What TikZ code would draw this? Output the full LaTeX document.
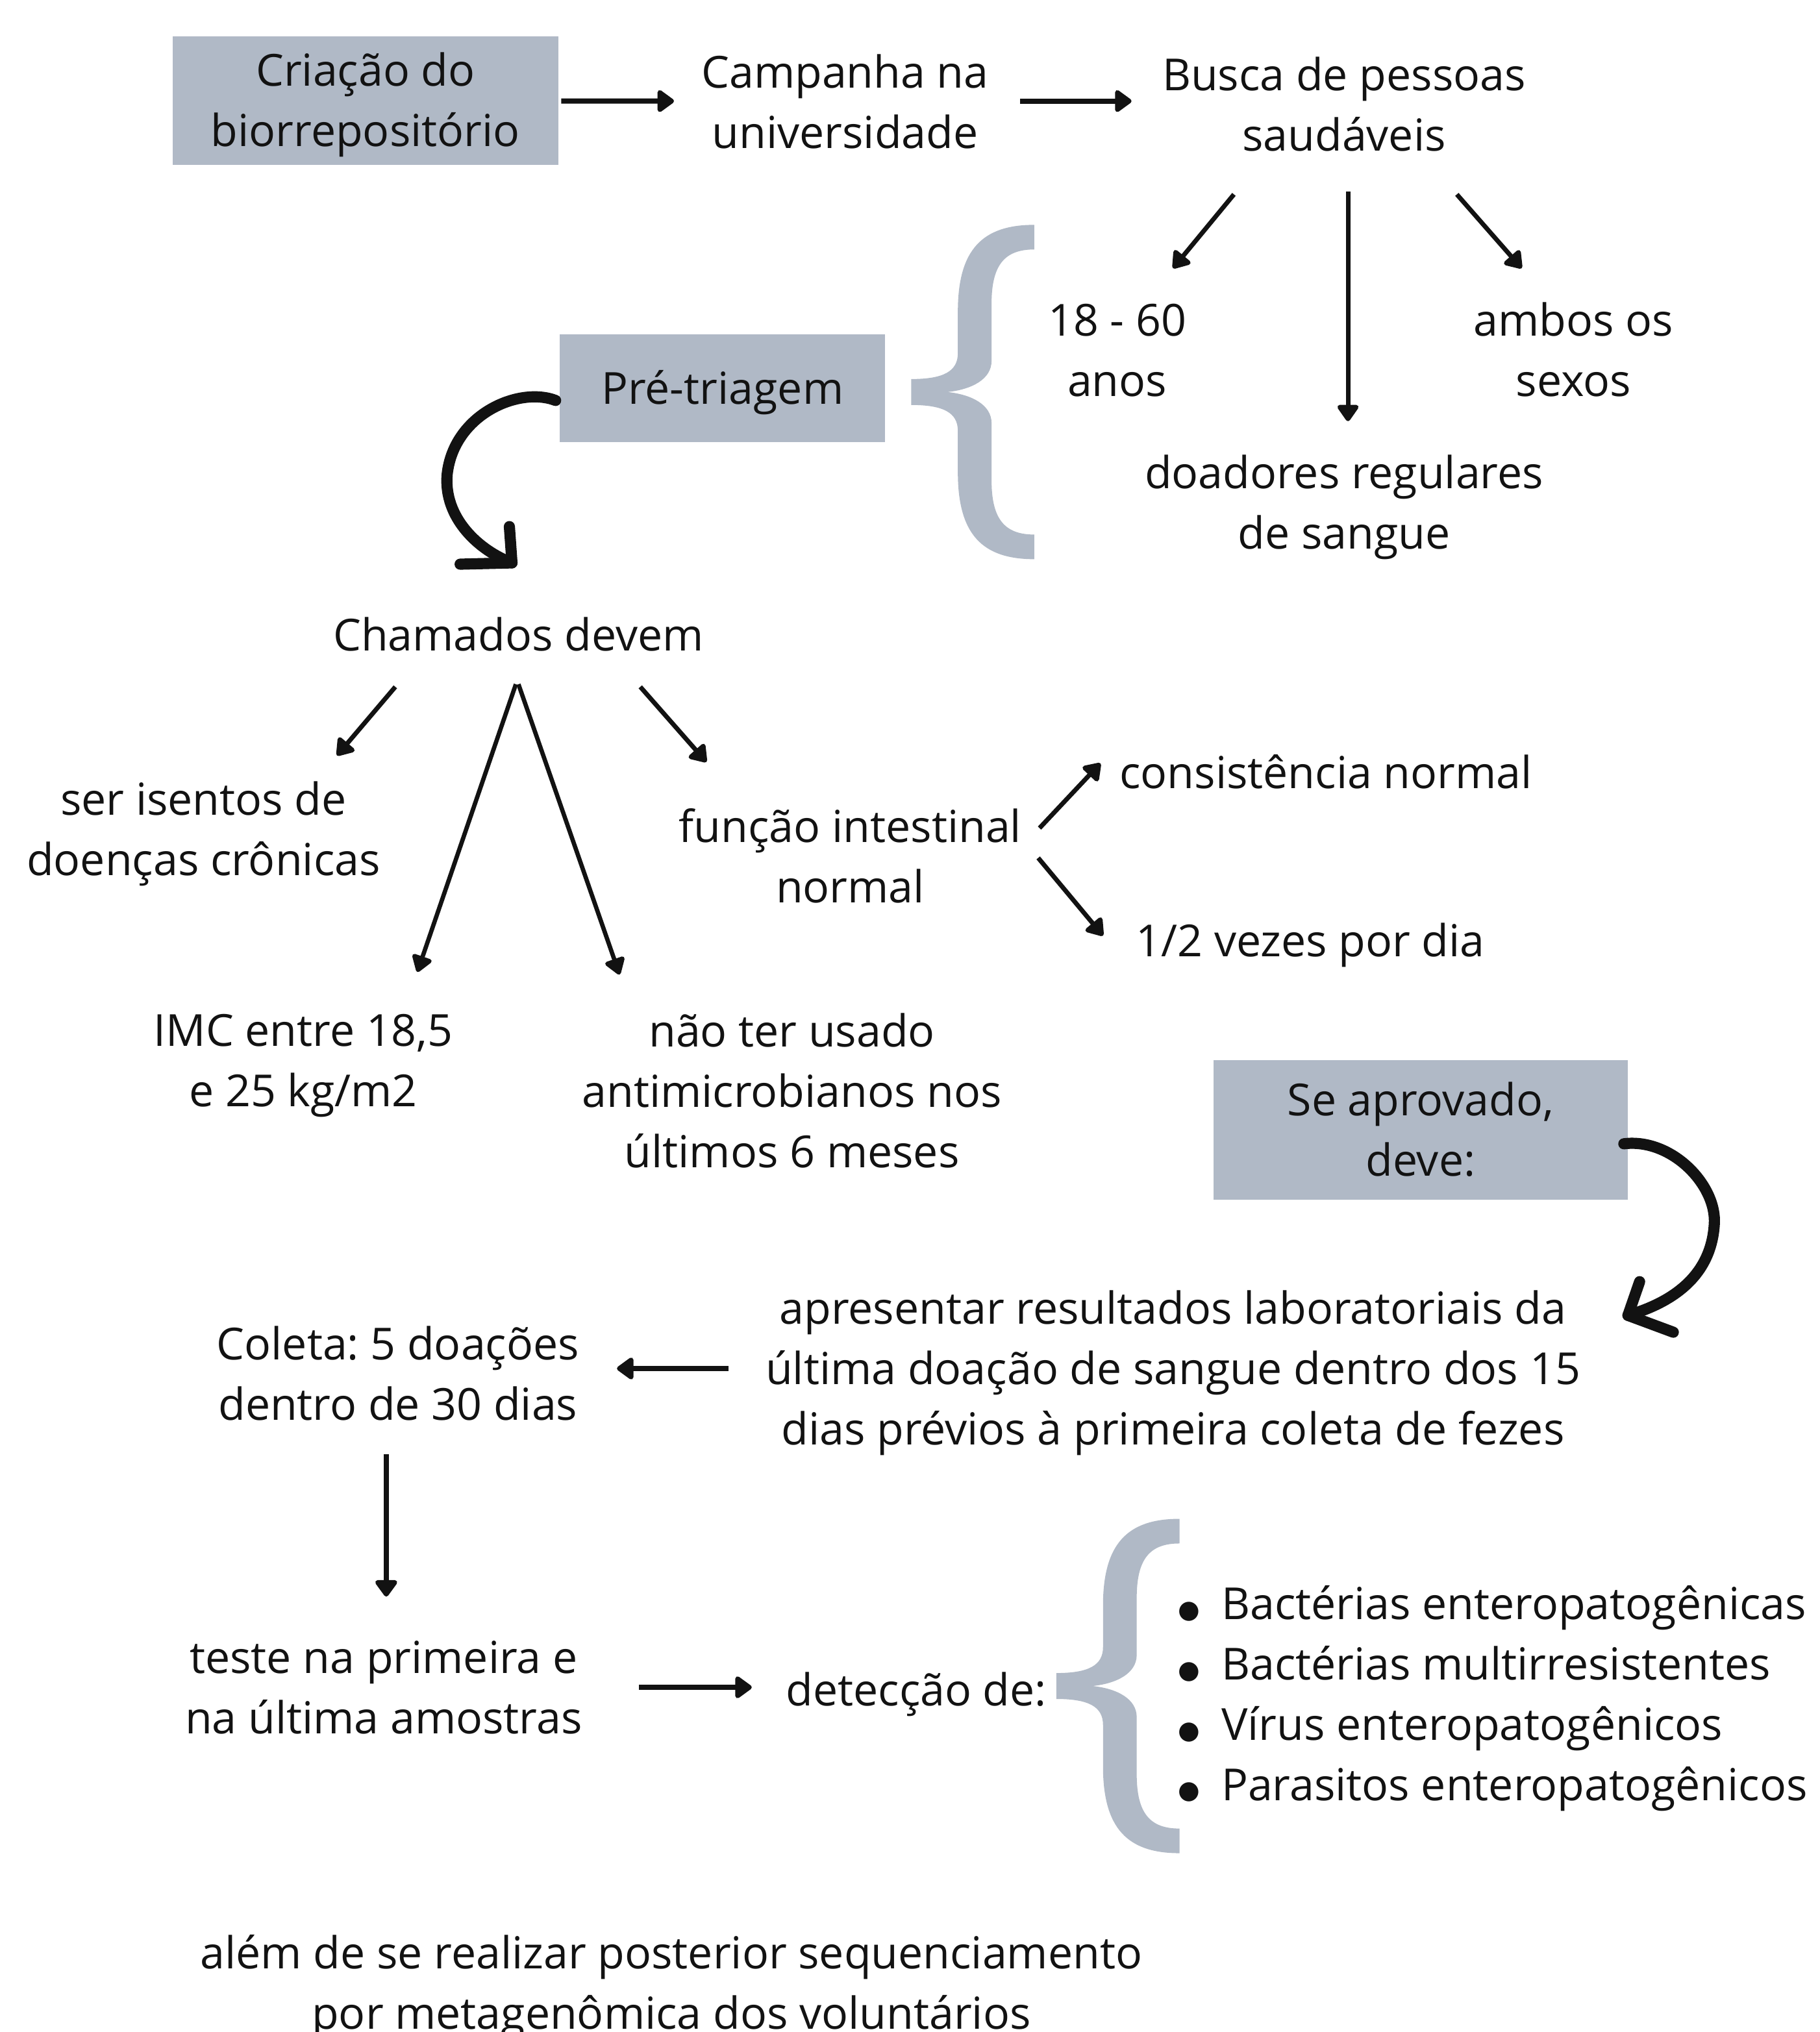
\documentclass[tikz,border=0pt]{standalone}
\usepackage{fontspec}
\setmainfont{Open Sans}
\newfontfamily\djv{DejaVu Sans}
\usetikzlibrary{arrows.meta,calc}
\definecolor{boxc}{RGB}{176,185,198}
\definecolor{ink}{RGB}{18,18,18}
\newcommand\bul{\makebox[0.6cm][l]{\hspace{-2pt}\raisebox{0.6pt}{\djv\fontsize{11pt}{11pt}\selectfont ●}}}
\newcommand\ml[1]{\begin{tabular}{@{}c@{}}\rule{0pt}{22pt}#1\end{tabular}}
\newcommand\mll[1]{\begin{tabular}{@{}l@{}}\rule{0pt}{22pt}#1\end{tabular}}
\begin{document}
\frenchspacing
\begin{tikzpicture}[x=0.02cm,y=-0.02cm,
  txt/.style={font=\frenchspacing\fontsize{19.4pt}{26.5pt}\selectfont, align=center, inner sep=0pt, text=ink,
    execute at begin node=\rule{0pt}{22pt}, execute at end node=\strut},
  gbox/.style={fill=boxc},
  arr/.style={draw=ink, line width=2.3pt, -{Triangle[length=8pt,width=11pt,round]}},
  darr/.style={draw=ink, line width=2pt, -{Triangle[length=8pt,width=10.5pt,round]}},
  larr/.style={draw=ink, line width=1.9pt, -{Triangle[length=8pt,width=10pt,round]}},
  curvy/.style={draw=ink, line width=4.9pt, line cap=round, line join=round},
  bracepic/.pic={
    \fill[boxc] (95,-129) .. controls (55,-129) and (36,-110) .. (36,-62) -- (36,-30)
      .. controls (36,-16) and (25,-10) .. (0,-10) -- (0,10)
      .. controls (25,10) and (36,16) .. (36,30) -- (36,62)
      .. controls (36,110) and (55,129) .. (95,129) -- (95,110)
      .. controls (72,110) and (62,98) .. (62,68) -- (62,24)
      .. controls (62,10) and (47,2) .. (28,0)
      .. controls (47,-2) and (62,-10) .. (62,-24) -- (62,-68)
      .. controls (62,-98) and (72,-110) .. (95,-110) -- cycle;
  }
]
\useasboundingbox (0,0) rectangle (1404,1568);
\fill[white] (0,0) rectangle (1404,1568);

% top row
\node[txt, gbox, minimum width=5.96cm, minimum height=1.98cm] (crea) at (282,77.5) {\ml{Criação do\\biorrepositório}};
\node[txt] (camp) at (652,79) {\ml{Campanha na\\universidade}};
\node[txt] (busca) at (1037,81) {\ml{Busca de pessoas\\saudáveis}};
\node[txt] (age) at (862,270) {\ml{18 - 60\\anos}};
\node[txt] (sexo) at (1214,270) {\ml{ambos os\\sexos}};
\node[txt] (doad) at (1037,388) {\ml{doadores regulares\\de sangue}};
\node[txt, gbox, minimum width=5.02cm, minimum height=1.66cm] (pre) at (557.5,299.5) {Pré-triagem};
\pic (brace1) at (703,302.5) {bracepic};

% chamados
\node[txt] (cham) at (400,490) {Chamados devem};
\node[txt] (isen) at (157,640) {\ml{ser isentos de\\doenças crônicas}};
\node[txt] (func) at (656,661) {\ml{função intestinal\\normal}};
\node[txt] (cons) at (1023,596) {consistência normal};
\node[txt] (vez) at (1011,726) {1/2 vezes por dia};
\node[txt] (imc) at (234,818) {\ml{IMC entre 18,5\\e 25 kg/m2}};
\node[txt] (naot) at (611,842) {\ml{não ter usado\\antimicrobianos nos\\últimos 6 meses}};
\node[txt, gbox, minimum width=6.4cm, minimum height=2.16cm] (seap) at (1096,872) {\ml{Se aprovado,\\deve:}};

% lower part
\node[txt] (apre) at (905,1056) {\ml{apresentar resultados laboratoriais da\\última doação de sangue dentro dos 15\\dias prévios à primeira coleta de fezes}};
\node[txt] (colet) at (307,1060) {\ml{Coleta: 5 doações\\dentro de 30 dias}};
\node[txt] (teste) at (296,1302) {\ml{teste na primeira e\\na última amostras}};
\node[txt] (detec) at (707,1304) {detecção de:};
\pic (brace2) at (815,1301) {bracepic};
\node[txt, anchor=west] (lista) at (912,1307) {\mll{%
\bul Bactérias enteropatogênicas\\
\bul Bactérias multirresistentes\\
\bul Vírus enteropatogênicos\\
\bul Parasitos enteropatogênicos}};
\node[txt] (alem) at (518,1530) {\ml{além de se realizar posterior sequenciamento\\por metagenômica dos voluntários}};

% connectors
\draw[arr] ($(crea)+(151,0.5)$) -- ($(camp)+(-132,-1)$);
\draw[arr] ($(camp)+(135,-1)$) -- ($(busca)+(-164,-3)$);
\draw[darr] ($(busca)+(-85,69)$) -- ($(age)+(43,-63)$);
\draw[darr] ($(busca)+(3,67)$) -- ($(doad)+(3,-63)$);
\draw[darr] ($(busca)+(87,69)$) -- ($(sexo)+(-40,-63)$);

\draw[darr] ($(cham)+(-95,40)$) -- ($(isen)+(103,-57)$);
\draw[larr] ($(cham)+(-2,38)$) -- ($(imc)+(88,-68)$);
\draw[larr] ($(cham)+(0,38)$) -- ($(naot)+(-133,-90)$);
\draw[darr] ($(cham)+(94,40)$) -- ($(func)+(-111,-73)$);
\draw[darr] ($(func)+(146,-22)$) -- ($(cons)+(-174,-7)$);
\draw[darr] ($(func)+(145,1)$) -- ($(vez)+(-160,-4)$);

\draw[arr] ($(apre)+(-343,0)$) -- ($(colet)+(169,-4)$);
\draw[arr] ($(colet)+(-9,62)$) -- ($(teste)+(2,-70)$);
\draw[arr] ($(teste)+(197,0)$) -- ($(detec)+(-127,-2)$);

% hand-drawn curved arrows
\draw[curvy] ($(pre.west)+(-3,9.5)$) .. controls (400,298) and (350,320) .. (345,366)
  .. controls (342,400) and (370,425) .. ($(cham.north)+(-5,-29)$);
\draw[curvy] ($(cham.north)+(-7,-57)$) -- ($(cham.north)+(-5,-29)$) -- ($(cham.north)+(-45,-28)$);

\draw[curvy] ($(seap.east)+(-3.5,10.6)$) .. controls (1290,878) and (1325,915) .. (1322.6,945)
  .. controls (1320,985) and (1290,1005) .. ($(apre)+(351,-41)$);
\draw[curvy] ($(apre)+(360,-67)$) -- ($(apre)+(351,-41)$) -- ($(apre)+(386,-28)$);
\end{tikzpicture}
\end{document}
